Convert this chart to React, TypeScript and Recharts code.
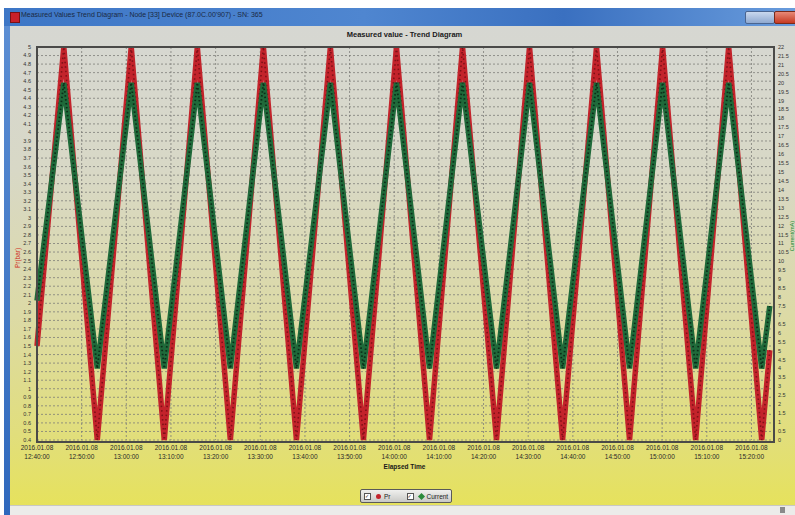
import { LineChart, Line, XAxis, YAxis, CartesianGrid } from "recharts";

const DATE_LABEL = "2016.01.08";

// elapsed minutes since 12:40:00 at each turning point of the signals
const times = [
  0, 6.0, 13.5, 21.1, 28.5, 35.9, 43.3, 50.7, 58.1, 65.7, 73.1, 80.5,
  87.9, 95.3, 102.9, 110.3, 117.7, 125.3, 132.7, 140.1, 147.5, 154.9, 162.3, 164.1,
];
const prValues = [
  1.5, 5, 0.4, 5, 0.4, 5, 0.4, 5, 0.4, 5, 0.4, 5,
  0.4, 5, 0.4, 5, 0.4, 5, 0.4, 5, 0.4, 5, 0.4, 1.45,
];
const currentValues = [
  7.8, 20, 4, 20, 4, 20, 4, 20, 4, 20, 4, 20,
  4, 20, 4, 20, 4, 20, 4, 20, 4, 20, 4, 7.5,
];

const xTicks = [0, 10, 20, 30, 40, 50, 60, 70, 80, 90, 100, 110, 120, 130, 140, 150, 160];
const xTickLabels = [
  "12:40:00", "12:50:00", "13:00:00", "13:10:00", "13:20:00", "13:30:00",
  "13:40:00", "13:50:00", "14:00:00", "14:10:00", "14:20:00", "14:30:00",
  "14:40:00", "14:50:00", "15:00:00", "15:10:00", "15:20:00",
];
const leftTicks = [
  5, 4.9, 4.8, 4.7, 4.6, 4.5, 4.4, 4.3, 4.2, 4.1, 4, 3.9, 3.8, 3.7, 3.6, 3.5,
  3.4, 3.3, 3.2, 3.1, 3, 2.9, 2.8, 2.7, 2.6, 2.5, 2.4, 2.3, 2.2, 2.1, 2, 1.9,
  1.8, 1.7, 1.6, 1.5, 1.4, 1.3, 1.2, 1.1, 1, 0.9, 0.8, 0.7, 0.6, 0.5, 0.4,
];
const rightTicks = [
  22, 21.5, 21, 20.5, 20, 19.5, 19, 18.5, 18, 17.5, 17, 16.5, 16, 15.5, 15,
  14.5, 14, 13.5, 13, 12.5, 12, 11.5, 11, 10.5, 10, 9.5, 9, 8.5, 8, 7.5, 7,
  6.5, 6, 5.5, 5, 4.5, 4, 3.5, 3, 2.5, 2, 1.5, 1, 0.5, 0,
];

const data = times.map((t, i) => ({ t, pr: prValues[i], current: currentValues[i] }));

const FONT = "'Liberation Sans', 'DejaVu Sans', Arial, sans-serif";
const RED = "#c3232b";
const GREEN = "#1f6a3a";

const XTick = (props: any) => {
  const { x, y, payload } = props;
  const idx = xTicks.indexOf(payload.value);
  return (
    <text x={x} y={y} textAnchor="middle" fontSize={6.5} fill="#2a2a2a" fontFamily={FONT}>
      <tspan x={x} dy={2}>{DATE_LABEL}</tspan>
      <tspan x={x} dy={9}>{xTickLabels[idx]}</tspan>
    </text>
  );
};

export default function App() {
  return (
    <div
      style={{
        position: "absolute",
        left: 0,
        top: 0,
        width: 795,
        height: 515,
        background: "#ffffff",
        overflow: "hidden",
        fontFamily: FONT,
      }}
    >
      {/* window frame */}
      <div style={{ position: "absolute", left: 4, top: 8, width: 800, height: 507, background: "linear-gradient(to bottom, #5d8fd4, #2f68bd)" }} />
      {/* title bar */}
      <div style={{ position: "absolute", left: 4, top: 8, width: 800, height: 18, background: "linear-gradient(to right, #3d76c6 0%, #4f86d0 45%, #3a70c0 70%, #6a9ddd 100%)" }} />
      <div style={{ position: "absolute", left: 10, top: 12, width: 8, height: 9, background: "#c8202a", border: "1px solid #7a1015" }} />
      <div style={{ position: "absolute", left: 21, top: 11, fontSize: 7, color: "#1a2a44", whiteSpace: "nowrap" }}>
        Measured Values Trend Diagram - Node [33] Device (87.0C.00'907) - SN: 365
      </div>
      <div style={{ position: "absolute", left: 745, top: 11, width: 28, height: 11, background: "linear-gradient(to bottom, #c9d8ee, #8fa9d0)", border: "1px solid #4a6590", borderRadius: 2 }} />
      <div style={{ position: "absolute", left: 774, top: 11, width: 24, height: 11, background: "linear-gradient(to bottom, #e88a78, #c63a22)", border: "1px solid #7a2a1a", borderRadius: 2 }} />
      {/* client area */}
      <div
        style={{
          position: "absolute",
          left: 10,
          top: 26,
          width: 790,
          height: 480,
          background: "linear-gradient(to bottom, #d6d7d2 0%, #d8d8c6 30%, #dcdaa6 60%, #e1de7c 85%, #e6e25c 100%)",
        }}
      />
      {/* status strip */}
      <div style={{ position: "absolute", left: 10, top: 505, width: 790, height: 10, background: "#ececea", borderTop: "1px solid #c8c8c4" }} />
      <div style={{ position: "absolute", left: 780, top: 507, width: 5, height: 6, background: "#8a8a8a" }} />

      {/* chart title */}
      <div style={{ position: "absolute", left: 0, top: 30, width: 809, textAlign: "center", fontSize: 7.5, fontWeight: "bold", color: "#1a1a1a" }}>
        Measured value - Trend Diagram
      </div>

      <div style={{ position: "absolute", left: 0, top: 0 }}>
        <LineChart width={795} height={515} data={data} margin={{ top: 47, right: 0, bottom: 45, left: 0 }}>
          <CartesianGrid
            yAxisId="left"
            stroke="#7d7d78"
            strokeDasharray="2 2"
            strokeWidth={0.8}
            horizontalValues={leftTicks}
            verticalValues={xTicks}
          />
          <XAxis
            dataKey="t"
            type="number"
            domain={[0, 164.6]}
            ticks={xTicks}
            interval={0}
            axisLine={false}
            tickLine={false}
            height={30}
            tick={<XTick />}
          />
          <YAxis
            yAxisId="left"
            domain={[0.4, 5]}
            ticks={leftTicks}
            interval={0}
            width={37}
            axisLine={false}
            tickLine={false}
            tickMargin={0}
            tick={{ fontSize: 5.5, fill: "#333", fontFamily: FONT }}
          />
          <YAxis
            yAxisId="right"
            orientation="right"
            domain={[0, 22]}
            ticks={rightTicks}
            interval={0}
            width={23}
            axisLine={false}
            tickLine={false}
            tickMargin={0}
            tick={{ fontSize: 5.5, fill: "#333", fontFamily: FONT, textAnchor: "start" }}
          />
          <Line yAxisId="left" dataKey="pr" name="Pr" stroke={RED} strokeWidth={5.5} dot={false} isAnimationActive={false} strokeLinejoin="miter" />
          <Line yAxisId="left" dataKey="pr" stroke="#7e1117" strokeWidth={1.6} strokeDasharray="1.5 3" dot={false} isAnimationActive={false} legendType="none" />
          <Line yAxisId="right" dataKey="current" name="Current" stroke={GREEN} strokeWidth={5.5} dot={false} isAnimationActive={false} strokeLinejoin="miter" />
          <Line yAxisId="right" dataKey="current" stroke="#0b2d18" strokeWidth={1.8} strokeDasharray="1.5 2.5" dot={false} isAnimationActive={false} legendType="none" />
        </LineChart>
      </div>

      {/* plot frame */}
      <div style={{ position: "absolute", left: 36, top: 46, width: 735, height: 393, border: "2px solid #4a4a48", pointerEvents: "none" }} />

      {/* axis titles */}
      <div style={{ position: "absolute", left: 17, top: 258, transform: "translate(-50%, -50%) rotate(-90deg)", fontSize: 6.5, color: "#d02a20", whiteSpace: "nowrap" }}>
        Pr(bar)
      </div>
      <div style={{ position: "absolute", left: 791.5, top: 236, transform: "translate(-50%, -50%) rotate(-90deg)", fontSize: 5.5, lineHeight: "6px", color: "#1f8a3a", whiteSpace: "nowrap" }}>
        Current(mA)
      </div>
      <div style={{ position: "absolute", left: 0, top: 463, width: 809, textAlign: "center", fontSize: 6.5, fontWeight: "bold", color: "#1a1a1a" }}>
        Elapsed Time
      </div>

      {/* legend */}
      <div
        style={{
          position: "absolute",
          left: 360,
          top: 489,
          width: 90,
          height: 12,
          background: "linear-gradient(to bottom, #f0f0ee, #c9c9c6)",
          border: "1.5px solid #5a5a58",
          borderRadius: 2,
          display: "flex",
          alignItems: "center",
          fontSize: 6.5,
          color: "#222",
        }}
      >
        <span style={{ width: 5, height: 5, border: "1px solid #555", background: "#fff", marginLeft: 3, fontSize: 5, lineHeight: "5px" }}>✓</span>
        <span style={{ width: 5, height: 5, borderRadius: 3, background: RED, marginLeft: 5 }} />
        <span style={{ marginLeft: 3 }}>Pr</span>
        <span style={{ width: 5, height: 5, border: "1px solid #555", background: "#fff", marginLeft: 16, fontSize: 5, lineHeight: "5px" }}>✓</span>
        <span style={{ width: 5, height: 5, transform: "rotate(45deg)", background: "#2a8a3a", marginLeft: 5 }} />
        <span style={{ marginLeft: 3 }}>Current</span>
      </div>
    </div>
  );
}
